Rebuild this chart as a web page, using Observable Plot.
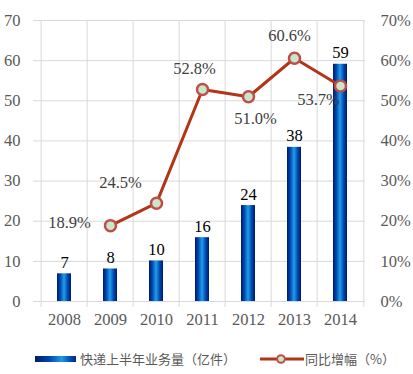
<!DOCTYPE html>
<html><head><meta charset="utf-8">
<script src="https://cdn.jsdelivr.net/npm/d3@7"></script>
<script src="https://cdn.jsdelivr.net/npm/@observablehq/plot@0.6"></script>
<style>
body{margin:0;background:#fff;}
#wrap{position:relative;width:413px;height:374px;overflow:hidden;}
.sw{position:absolute;left:35px;top:356px;width:41px;height:6px;background:linear-gradient(to right,#001a66 0%,#0047b3 35%,#1e9be6 65%,#0050b8 85%,#002a80 100%);}
.lt{position:absolute;white-space:nowrap;line-height:1;}
</style></head><body>
<div id="wrap"></div>
<script>
// ---- data ----
const years = ["2008","2009","2010","2011","2012","2013","2014"];
const volume = [6.9, 8.1, 10.1, 15.9, 23.9, 38.4, 59.1];
const volumeLabels = ["7","8","10","16","24","38","59"];
const growthYears = ["2009","2010","2011","2012","2013","2014"];
const growth = [18.9, 24.5, 52.8, 51.0, 60.6, 53.7];
const growthLabels = ["18.9%","24.5%","52.8%","51.0%","60.6%","53.7%"];
const leftTicks = [0,10,20,30,40,50,60,70];
const rightTickLabels = ["0%","10%","20%","30%","40%","50%","60%","70%"];
const seriesNames = ["快递上半年业务量（亿件）","同比增幅（%）"];

const barRows = years.map((y,i)=>({year:y, value:volume[i], label:volumeLabels[i]}));
const lineRows = growthYears.map((y,i)=>({year:y, value:growth[i], label:growthLabels[i]}));

// label placement (layout only)
const W = 413, H = 335, ML = 38, MR = 48, MT = 20, MB = 34;
const bw = (W - ML - MR) / years.length;
const pctOffsets = [[-41,-3],[-36,-20],[-8,-21],[7,22],[-5,-23],[-22,14]];

const grid = "#d9d9d9";
const serif = "'Liberation Serif','Times New Roman',serif";

const marks = [
  Plot.ruleY(leftTicks, {y: d=>d, stroke: grid, strokeWidth: 1, insetLeft: -5}),
  Plot.ruleX(years, {x: d=>d, dx: -bw/2, stroke: grid, strokeWidth: 1, insetBottom: -6}),
  Plot.ruleX([years[years.length-1]], {x: d=>d, dx: bw/2, stroke: grid, strokeWidth: 1, insetBottom: -6}),
  Plot.axisY(leftTicks, {anchor: "left", tickSize: 0, tickPadding: 18, color: "#595959", fontSize: 16.5, label: null}),
  Plot.axisY(leftTicks, {anchor: "right", tickSize: 0, tickPadding: 15, color: "#595959", fontSize: 16.5, label: null,
    tickFormat: d => rightTickLabels[leftTicks.indexOf(d)]}),
  Plot.axisX({tickSize: 0, tickPadding: 12, color: "#595959", fontSize: 16.5, label: null}),
  Plot.barY(barRows, {x: "year", y: "value", fill: "url(#barGrad)", insetLeft: 16, insetRight: 16}),
  Plot.text(barRows, {x: "year", y: "value", text: "label", lineAnchor: "bottom", dy: -6, fill: "#000", fontSize: 16.5}),
  Plot.line(lineRows, {x: "year", y: "value", stroke: "#b23517", strokeWidth: 3}),
  Plot.dot(lineRows, {x: "year", y: "value", r: 5.5, fill: "#c9e6c8", stroke: "#bf4e4a", strokeWidth: 2.5}),
  ...lineRows.map((row,i) => Plot.text([row], {x: "year", y: "value", text: "label",
     dx: pctOffsets[i][0], dy: pctOffsets[i][1], fill: "#404040", fontSize: 16.5}))
];

const chart = Plot.plot({
  width: W, height: H,
  marginLeft: ML, marginRight: MR, marginTop: MT, marginBottom: MB,
  style: {fontFamily: serif, fontSize: "16.5px", background: "#fff", overflow: "visible"},
  x: {type: "band", domain: years, paddingInner: 0, paddingOuter: 0, axis: null, label: null},
  y: {domain: [0, 70], axis: null, label: null},
  marks
});

// horizontal cylinder-like gradient for bars
const ns = "http://www.w3.org/2000/svg";
const defs = document.createElementNS(ns, "defs");
const lg = document.createElementNS(ns, "linearGradient");
lg.setAttribute("id", "barGrad");
lg.setAttribute("x1", "0"); lg.setAttribute("x2", "1"); lg.setAttribute("y1", "0"); lg.setAttribute("y2", "0");
[["0%","#001a6b"],["22%","#0043ad"],["50%","#1f9fe8"],["78%","#0043ad"],["100%","#001a6b"]].forEach(([o,c])=>{
  const s = document.createElementNS(ns, "stop");
  s.setAttribute("offset", o); s.setAttribute("stop-color", c);
  lg.appendChild(s);
});
defs.appendChild(lg);
chart.insertBefore(defs, chart.firstChild);

const wrap = document.getElementById("wrap");
wrap.appendChild(chart);

// legend
const leg = document.createElement("div");
leg.innerHTML = `
<div class="sw"></div>
<div class="lt" style="left:80px;top:352px;font-family:'Noto Sans CJK SC',sans-serif;font-size:13px;color:#595959;">${seriesNames[0]}</div>
<svg style="position:absolute;left:258px;top:352px" width="48" height="14">
  <line x1="2" x2="46" y1="7" y2="7" stroke="#b23517" stroke-width="3"/>
  <circle cx="23" cy="7" r="3.8" fill="#c9e6c8" stroke="#bf4e4a" stroke-width="2"/>
</svg>
<div class="lt" style="left:305px;top:352px;font-family:'Noto Sans CJK SC',sans-serif;font-size:13px;color:#595959;">${seriesNames[1]}</div>`;
wrap.appendChild(leg);
</script>
</body></html>
